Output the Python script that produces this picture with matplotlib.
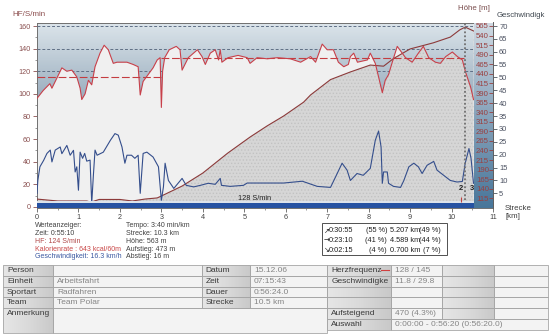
import numpy as np
import matplotlib
matplotlib.use("Agg")
import matplotlib.pyplot as plt
from matplotlib.colors import LinearSegmentedColormap
from matplotlib.patches import Rectangle
from matplotlib.ticker import MultipleLocator

plt.rcParams['font.family'] = ['Liberation Sans', 'DejaVu Sans']
plt.rcParams['hatch.linewidth'] = 0.6

# ---------------- data ----------------
hf_km = [0.00, 0.15, 0.31, 0.36, 0.60, 0.72, 0.84, 0.96, 1.04, 1.08, 1.16, 1.24, 1.32, 1.40,
         1.52, 1.62, 1.72, 1.84, 1.93, 2.17, 2.32, 2.44, 2.49, 2.56, 2.68, 2.80, 2.90, 2.97,
         3.00, 3.03, 3.08, 3.19, 3.36, 3.45, 3.50, 3.65, 3.87, 3.98, 4.06, 4.18, 4.30, 4.38,
         4.42, 4.46, 4.61, 4.85, 5.07, 5.14, 5.31, 5.55, 5.80, 6.11, 6.36, 6.60, 6.72, 6.88,
         7.00, 7.15, 7.27, 7.40, 7.51, 7.56, 7.64, 7.73, 7.97, 8.04, 8.16, 8.24, 8.33, 8.40,
         8.48, 8.57, 8.69, 8.81, 8.89, 9.05, 9.20, 9.32, 9.45, 9.61, 9.73, 9.86, 10.02, 10.14,
         10.26, 10.34, 10.46, 10.53]
hf_bpm = [96, 103, 109, 105, 123, 120, 121, 115, 105, 95, 100, 112, 108, 124,
          136, 143, 139, 127, 128, 128, 126, 124, 99, 111, 117, 123, 130, 132,
          88, 120, 132, 139, 142, 139, 121, 132, 139, 133, 126, 136, 139, 130,
          139, 128, 132, 134, 132, 127, 132, 131, 132, 131, 128, 133, 128, 144,
          139, 139, 128, 124, 126, 133, 136, 128, 130, 136, 127, 115, 101, 112,
          117, 128, 142, 136, 132, 128, 136, 142, 132, 128, 127, 133, 137, 133,
          130, 119, 106, 95]

spd_km = [0.00, 0.02, 0.07, 0.16, 0.24, 0.32, 0.36, 0.44, 0.56, 0.60, 0.72, 0.80, 0.88, 0.92,
          0.96, 1.00, 1.04, 1.10, 1.15, 1.20, 1.28, 1.32, 1.36, 1.40, 1.45, 1.60, 1.77, 1.88,
          1.96, 2.05, 2.12, 2.17, 2.28, 2.36, 2.44, 2.49, 2.56, 2.65, 2.80, 2.93, 3.00, 3.05,
          3.09, 3.17, 3.30, 3.50, 3.60, 3.78, 3.94, 4.13, 4.30, 4.42, 4.45, 4.66, 4.98, 5.07,
          5.47, 5.95, 6.40, 6.76, 7.08, 7.20, 7.36, 7.48, 7.56, 7.72, 7.87, 8.04, 8.16, 8.24,
          8.30, 8.33, 8.36, 8.45, 8.48, 8.60, 8.77, 8.85, 8.97, 9.09, 9.20, 9.29, 9.41, 9.57,
          9.65, 9.81, 9.97, 10.13, 10.26, 10.33, 10.42, 10.47, 10.53]
spd_kmh = [5.0, 10.0, 15.3, 17.8, 20.5, 21.8, 17.2, 21.8, 23.0, 20.4, 23.6, 19.8, 21.7, 13.3,
           15.3, 6.2, 21.0, 18.6, 20.5, 17.5, 17.9, 1.1, 12.0, 21.8, 19.8, 21.0, 25.6, 28.2,
           27.6, 23.0, 16.7, 19.8, 19.8, 18.6, 19.8, 5.0, 20.5, 21.0, 19.1, 15.3, 2.3, 7.5,
           16.7, 10.0, 6.9, 10.8, 8.1, 7.5, 8.1, 8.9, 8.5, 10.8, 8.1, 7.7, 8.1, 9.0,
           9.0, 9.0, 9.7, 7.7, 7.3, 11.3, 16.7, 14.0, 10.0, 12.7, 12.0, 14.7, 25.6, 29.2,
           23.0, 8.9, 13.3, 13.3, 8.9, 7.7, 7.3, 10.0, 15.3, 16.7, 15.3, 12.7, 15.9, 17.4,
           14.0, 12.0, 10.0, 9.4, 9.6, 16.7, 22.4, 18.6, 8.9]

alt_km = [0.0, 0.5, 1.2, 1.3, 1.5, 2.0, 2.3, 2.6, 2.9, 3.0, 3.5, 4.0, 4.6, 5.14, 5.55, 5.95,
          6.43, 6.6, 7.08, 7.56, 8.04, 8.36, 8.6, 9.0, 9.56, 9.97, 10.2, 10.33, 10.53]
alt_m = [113, 108, 108, 105, 112, 112, 108, 113, 116, 121, 147, 181, 233, 275, 304, 330,
         366, 385, 425, 445, 463, 460, 480, 505, 521, 536, 555, 562, 552]

lap_km = [0.0, 3.0, 10.3]
lap_avg_hf = [115, 132]
lap_marks = ['2', '3']
lap_mark_km = [10.23, 10.49]
cursor_km = 10.33
avg_label = '128 S/min'

x_ticks = list(range(0, 12))
hf_ticks = list(range(0, 161, 20))
hf_grid = [120, 140, 160]
spd_ticks = list(range(5, 71, 5))
alt_ticks = list(range(115, 566, 25))

info_col1 = ['Werteanzeiger:', 'Zeit: 0:55:10', 'HF: 124 S/min',
             'Kalorienrate : 643 kcal/60m', 'Geschwindigkeit: 16.3 km/h']
info_col2 = ['Tempo: 3:40 min/km', 'Strecke: 10.3 km', 'Höhe: 563 m',
             'Aufstieg: 473 m', 'Abstieg: 16 m']
info_colors = ['#404040', '#404040', '#b04848', '#c84646', '#3a58a0']

box_arrows = ['\u2197', '\u2192', '\u2198']
box_time = ['0:30:55', '0:23:10', '0:02:15']
box_tpct = ['(55 %)', '(41 %)', '(4 %)']
box_dist = ['5.207 km', '4.589 km', '0.700 km']
box_dpct = ['(49 %)', '(44 %)', '(7 %)']

left_labels = ['Person', 'Einheit', 'Sportart', 'Team', 'Anmerkung']
left_values = ['', 'Arbeitsfahrt', 'Radfahren', 'Team Polar', '']
mid_labels = ['Datum', 'Zeit', 'Dauer', 'Strecke']
mid_values = ['15.12.06', '07:15:43', '0:56:24.0', '10.5 km']
right_labels = ['Herzfrequenz', 'Geschwindigke', '', '', 'Aufsteigend', 'Auswahl']
right_values = ['128 / 145', '11.8 / 29.8', '', '', '470 (4.3%)',
                '0:00:00 - 0:56:20 (0:56:20.0)']

# ---------------- figure ----------------
W, H = 550, 335
fig = plt.figure(figsize=(W / 100, H / 100), dpi=100)
fig.patch.set_facecolor('white')

pg = fig.add_axes([0, 0, 1, 1], zorder=0)
pg.patch.set_visible(False)


def fx(px):
    return px / W


def fy(py):
    return 1 - py / H


ax = fig.add_axes([fx(37), fy(208), (493 - 37) / W, (208 - 22.5) / H], zorder=1)
ax_alt = ax.twinx()
ax_spd = ax.twinx()
ax_alt.set_zorder(2)
ax_spd.set_zorder(3)

XL = (0, 11)
HFL = (-0.9, 163.1)
ALTL = (89.7, 574.1)
SPDL = (-0.7, 71.36)


def set_lims():
    ax.set_xlim(*XL)
    ax.set_ylim(*HFL)
    ax_alt.set_ylim(*ALTL)
    ax_spd.set_ylim(*SPDL)


set_lims()
ax.set_facecolor('#f0f0f0')
end_km = max(hf_km)

# altitude fill (under everything else)
ax.fill_between(alt_km, alt_m, 0, transform=ax_alt.transData,
                facecolor='#d6d6d6', edgecolor='#c2c2c2', hatch='.....', lw=0, zorder=1)

# gradient area above the heart-rate curve
poly = ax.fill_between(hf_km, hf_bpm, HFL[1], facecolor='none', edgecolor='none')
clip = poly.get_paths()[0]
grad_cmap = LinearSegmentedColormap.from_list('g', ['#8fa4b7', '#b6c5d1', '#dce5eb'])
img = ax.imshow(np.linspace(0, 1, 256).reshape(-1, 1), extent=[0, end_km, 85, HFL[1]],
                origin='lower', aspect='auto', cmap=grad_cmap, zorder=2,
                interpolation='bilinear')
img.set_clip_path(clip, transform=ax.transData)

for g in hf_grid:
    ln = ax.axhline(g, color='#5f6f85', lw=0.7, ls=(0, (3, 2)), zorder=3)
    ln.set_clip_path(clip, transform=ax.transData)

# lap averages
ax.hlines(lap_avg_hf, lap_km[:-1], lap_km[1:], colors='#c43c40', lw=0.8,
          linestyles=[(0, (7, 2.5))], zorder=4)

# lines
ax.plot(alt_km, alt_m, transform=ax_alt.transData, color='#8c3a3a', lw=0.8, zorder=5)
ax.plot(hf_km, hf_bpm, color='#c8404a', lw=0.8, zorder=6)
ax.plot(spd_km, spd_kmh, transform=ax_spd.transData, color='#344e8c', lw=0.8, zorder=6)

ax.axvline(cursor_km, color='#707070', lw=1.3, ls=(0, (1, 1.2)), zorder=7)

# right band after end of data
band_cmap = LinearSegmentedColormap.from_list('b', ['#48769a', '#88a3ba', '#d0dae3'])
ax.imshow(np.linspace(0, 1, 256).reshape(-1, 1), extent=[end_km, XL[1], HFL[0], HFL[1]],
          origin='lower', aspect='auto', cmap=band_cmap, zorder=8, interpolation='bilinear')

# bottom bar
ax.add_patch(Rectangle((0, HFL[0]), end_km, 4.7, facecolor='#2652a2', edgecolor='none', zorder=9))
ax.add_patch(Rectangle((0, 3.8), end_km, 1.3, facecolor='#dde3ea', edgecolor='none', zorder=9))
ax.text(5.26, 7.4, avg_label, ha='center', va='center', fontsize=5.3, color='#202020', zorder=10)

ax.vlines(lap_mark_km[0] + 0.01, 4.4, 8.8, colors='#c04040', lw=0.8, zorder=10)
for t, k in zip(lap_marks, lap_mark_km):
    ax.text(k, 15.9, t, ha='center', va='center', fontsize=5.5, color='#202020',
            fontweight='bold', zorder=10)

# ticks and spines
ax.set_xticks(x_ticks)
ax.xaxis.set_minor_locator(MultipleLocator(0.5))
ax.set_yticks(hf_ticks)
ax.yaxis.set_minor_locator(MultipleLocator(10))
ax.tick_params(axis='x', which='major', length=3, width=0.6, color='#606060',
               labelsize=5.2, labelcolor='#404040', pad=1.2)
ax.tick_params(axis='y', which='major', length=3, width=0.6, color='#8a5050',
               labelsize=5.2, labelcolor='#8a5050', pad=1.4)
ax.tick_params(which='minor', length=1.6, width=0.5, color='#707070')
for s in ax.spines.values():
    s.set_color('#707070')
    s.set_linewidth(0.7)
ax.spines['right'].set_visible(False)

ax_spd.set_yticks(spd_ticks)
ax_spd.tick_params(axis='y', direction='out', length=3, width=0.6, color='#505860',
                   labelsize=5.4, labelcolor='#4a5060', pad=1.4)
for k, s in ax_spd.spines.items():
    s.set_visible(k == 'right')
ax_spd.spines['right'].set_color('#606060')
ax_spd.spines['right'].set_linewidth(0.7)

ax_alt.set_yticks(alt_ticks)
ax_alt.tick_params(axis='y', direction='in', length=3, width=0.6, color='#9a4040',
                   labelsize=5.6, labelcolor='#9a4040', pad=-12.3)
for s in ax_alt.spines.values():
    s.set_visible(False)
set_lims()

# axis titles
fig.text(fx(12), fy(15), 'HF/S/min', fontsize=5.8, color='#8b4d4d', va='center', ha='left')
fig.text(fx(458), fy(9), 'Höhe [m]', fontsize=5.7, color='#7a4e4e', va='center', ha='left')
fig.text(fx(497), fy(15.5), 'Geschwindigk', fontsize=5.6, color='#404850', va='center', ha='left')
fig.text(fx(505), fy(208.5), 'Strecke', fontsize=5.7, color='#404040', va='center', ha='left')
fig.text(fx(505), fy(217), '[km]', fontsize=5.7, color='#404040', va='center', ha='left')

# value readout
info_y = [225.5, 233.3, 241.5, 249.3, 257.0]
for t, c, y in zip(info_col1, info_colors, info_y):
    pg.text(35, y, t, fontsize=5.0, color=c, va='center', ha='left')
for t, y in zip(info_col2, info_y):
    pg.text(126, y, t, fontsize=5.0, color='#404040', va='center', ha='left')

# lap summary box
pg.add_patch(Rectangle((322, 223), 125, 32, facecolor='white', edgecolor='#505050', lw=0.7))
box_y = [230.7, 240.3, 250.0]
for a, t1, p1, d, p2, y in zip(box_arrows, box_time, box_tpct, box_dist, box_dpct, box_y):
    pg.text(323.5, y, a, fontsize=5.0, color='#202020', va='center', ha='left',
            family=['DejaVu Sans'])
    pg.text(329, y, t1, fontsize=5.3, color='#202020', va='center', ha='left')
    pg.text(387, y, p1, fontsize=5.3, color='#202020', va='center', ha='right')
    pg.text(390, y, d, fontsize=5.3, color='#202020', va='center', ha='left')
    pg.text(441, y, p2, fontsize=5.3, color='#202020', va='center', ha='right')

# table
rows = [265, 275.8, 286.6, 297.4, 308.2, 319.0, 329.8]
anm_bottom = 333
cx = [3, 53.3, 201.7, 250, 327.3, 390.7, 441.7, 494, 548.3]
label_cmap = LinearSegmentedColormap.from_list('l', ['#e6e6e6', '#dadada', '#c9c9c9'])


def cell(x0, x1, y0, y1, kind, text='', tcolor='#3a3a3a'):
    if kind == 'label':
        pg.imshow(np.linspace(0, 1, 64).reshape(1, -1), extent=[x0, x1, y1, y0],
                  cmap=label_cmap, aspect='auto', zorder=1, interpolation='bilinear')
    else:
        pg.add_patch(Rectangle((x0, y0), x1 - x0, y1 - y0, facecolor='#f3f3f3',
                               edgecolor='none', zorder=1))
    pg.add_patch(Rectangle((x0, y0), x1 - x0, y1 - y0, facecolor='none',
                           edgecolor='#a6a6a6', lw=0.6, zorder=2))
    if text:
        ty = y0 + 5.6
        pg.text(x0 + 4, ty, text, fontsize=6.0, color=tcolor, va='center', ha='left',
                zorder=3, clip_on=True)


for i in range(4):
    cell(cx[0], cx[1], rows[i], rows[i + 1], 'label', left_labels[i])
    cell(cx[1], cx[2], rows[i], rows[i + 1], 'value', left_values[i], '#858585')
    cell(cx[2], cx[3], rows[i], rows[i + 1], 'label', mid_labels[i])
    cell(cx[3], cx[4], rows[i], rows[i + 1], 'value', mid_values[i], '#858585')
cell(cx[0], cx[1], rows[4], anm_bottom, 'label', left_labels[4])
cell(cx[1], cx[4], rows[4], anm_bottom, 'value', left_values[4])

for i in range(6):
    cell(cx[4], cx[5], rows[i], rows[i + 1], 'label', right_labels[i])
    if i < 5:
        cell(cx[5], cx[6], rows[i], rows[i + 1], 'value', right_values[i], '#858585')
        cell(cx[6], cx[7], rows[i], rows[i + 1], 'label')
        cell(cx[7], cx[8], rows[i], rows[i + 1], 'value')
    else:
        cell(cx[5], cx[8], rows[i], rows[i + 1], 'value', right_values[i], '#858585')
pg.plot([381, 389], [270.4, 270.4], color='#d04040', lw=0.8, zorder=4)

pg.set_xlim(0, W)
pg.set_ylim(H, 0)
pg.axis('off')

fig.savefig('out.png', dpi=100, facecolor='white')
